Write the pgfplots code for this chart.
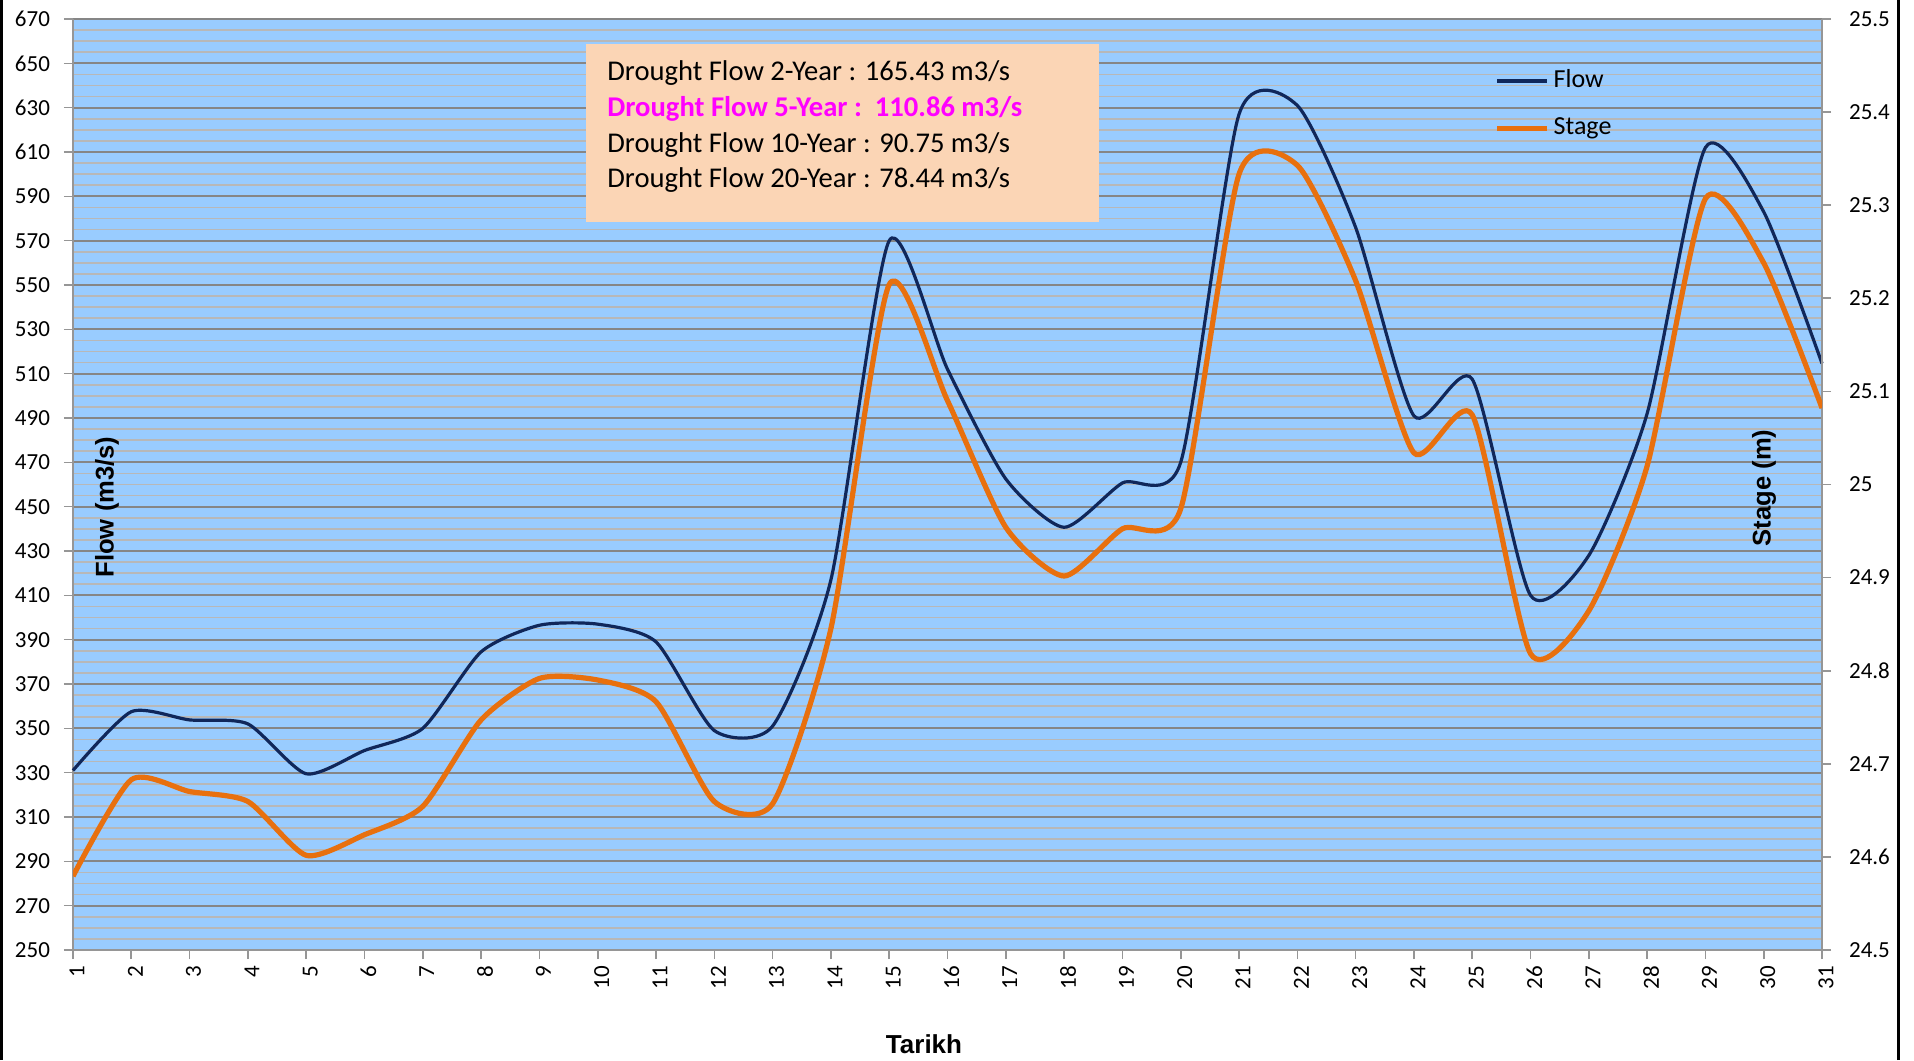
\documentclass[border=0pt]{standalone}
\usepackage{pgfplots}
\pgfplotsset{compat=1.18}
\usepackage{fontspec}
\setmainfont{Carlito}
\newfontfamily\labfont{Liberation Sans}
\definecolor{bgblue}{HTML}{99CCFF}
\definecolor{majgrid}{HTML}{868686}
\definecolor{mingrid}{HTML}{B8B8B8}
\definecolor{flowc}{HTML}{10275A}
\definecolor{stagec}{HTML}{E8700E}
\definecolor{boxc}{HTML}{FBD5B5}
\definecolor{axgray}{HTML}{969696}

\pgfplotstableread{
x flow
1 331
2 357.5
3 353.8
4 352
5 329.5
6 340
7 350
8 384.5
9 396.5
10 397
11 389
12 349
13 351
14 417
15 570
16 512
17 462.5
18 440.7
19 460.7
20 470
21 627
22 631
23 576
24 491
25 507.5
26 410
27 428
28 492
29 612
30 583
31 514.6
}\flowdata

\pgfplotstableread{
x stage
1 24.5793
2 24.6829
3 24.6702
4 24.6595
5 24.6017
6 24.6238
7 24.6543
8 24.7471
9 24.7917
10 24.7900
11 24.7667
12 24.6595
13 24.6571
14 24.8452
15 25.2148
16 25.0900
17 24.9540
18 24.9017
19 24.9524
20 24.9738
21 25.3333
22 25.3429
23 25.2190
24 25.0340
25 25.0748
26 24.8183
27 24.8643
28 25.0198
29 25.3070
30 25.2380
31 25.0821
}\stagedata

\begin{document}
\begin{tikzpicture}
\path[use as bounding box] (-36.5pt,-55pt) rectangle (920.5pt,475pt);
\pgfplotsset{every axis/.append style={
  scale only axis, width=874.5pt, height=465.5pt,
  xmin=1, xmax=31, at={(0,0)}, anchor=south west,
  /pgf/number format/assume math mode=true,
  tick align=outside,
  major tick length=4.5pt,
  minor tick length=0pt,
  every tick/.style={axgray, line width=0.8pt},
  axis line style={axgray, line width=0.8pt},
  tick label style={font=\fontsize{11.5}{13}\selectfont, text=black},
}}
\begin{axis}[
  axis background/.style={fill=bgblue},
  ymin=250, ymax=670, ytick={250,270,...,670},
  minor y tick num=3,
  ymajorgrids, yminorgrids,
  major grid style={majgrid, line width=0.9pt},
  minor grid style={mingrid, line width=0.9pt},
  xtick={1,...,31},
  axis y line*=left, axis x line*=bottom,
  xticklabel style={rotate=90, anchor=east, yshift=-2pt},
  yticklabel style={xshift=-3.5pt},
  clip=false,
]
\addplot[flowc, line width=1.6pt, smooth, tension=0.4] table[x=x, y=flow] {\flowdata};
\end{axis}
\begin{axis}[
  axis x line=none, axis y line*=right,
  ymin=24.5, ymax=25.5,
  ytick={24.5,24.6,24.7,24.8,24.9,25,25.1,25.2,25.3,25.4,25.5},
  yticklabel style={/pgf/number format/.cd, fixed, precision=1, /tikz/.cd, xshift=5.5pt},
  legend style={at={(0.8125,0.951)}, anchor=north west, draw=none, fill=none,
    inner sep=0pt, row sep=7.8pt, font=\fontsize{13}{15}\selectfont,
    nodes={inner sep=2pt, text height=9pt, text depth=3pt}},
  legend cell align=left,
  legend image code/.code={\draw[#1] (0pt,0pt) -- (25pt,0pt);},
]
\addlegendimage{flowc, line width=1.6pt}
\addlegendentry{Flow}
\addplot[stagec, line width=2.6pt, smooth, tension=0.4] table[x=x, y=stage] {\stagedata};
\addlegendentry{Stage}
\end{axis}
% text box
\fill[boxc] (256.5pt,364pt) rectangle (513pt,453pt);
\begin{scope}[every node/.style={anchor=west, inner sep=0pt, font=\fontsize{14.3}{16}\selectfont}]
\node at (267pt,438.3pt) {Drought Flow 2-Year : 165.43 m3/s};
\node[font=\fontsize{14.3}{16}\selectfont\bfseries, text={rgb,255:red,255;green,0;blue,255}] at (267pt,420.3pt) {Drought Flow 5-Year :~~110.86 m3/s};
\node at (267pt,402.3pt) {Drought Flow 10-Year : 90.75 m3/s};
\node at (267pt,384.8pt) {Drought Flow 20-Year : 78.44 m3/s};
\end{scope}
% axis titles
\node[rotate=90, font=\labfont\bfseries\fontsize{12.8}{15}\selectfont] at (17pt,221.5pt) {Flow (m3/s)};
\node[rotate=90, font=\labfont\bfseries\fontsize{12.8}{15}\selectfont] at (845.5pt,231pt) {Stage (m)};
\node[font=\labfont\bfseries\fontsize{13}{15}\selectfont] at (425.5pt,-47pt) {Tarikh};
% frame
\draw[black, line width=1.5pt] (-35.5pt,-55pt) -- (-35.5pt,475pt);
\draw[black, line width=1.5pt] (912.5pt,-55pt) -- (912.5pt,475pt);
\end{tikzpicture}
\end{document}
